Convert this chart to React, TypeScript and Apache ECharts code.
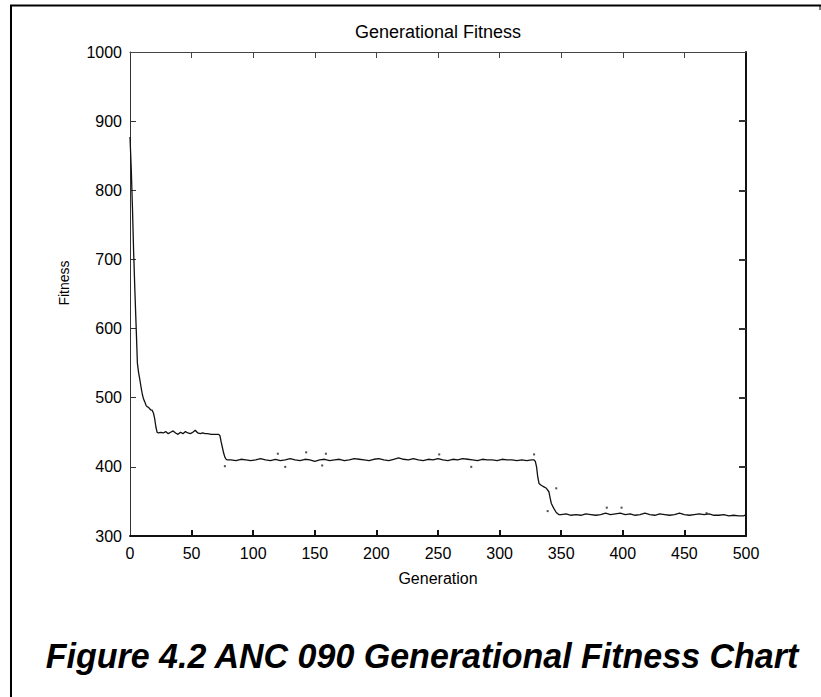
import React, { useEffect, useRef } from "react";
import * as echarts from "echarts";

const generations = [
  0, 1, 2, 3, 4, 5, 6, 7, 8, 9, 10, 11, 12, 13, 14, 15, 16, 17, 18, 19, 20, 21, 22, 23,
  25, 27, 29, 31, 33, 35, 37, 39, 41, 43, 45, 47, 49, 51, 53, 55, 57, 59, 61, 63, 66, 70, 72,
  73, 74, 75, 76, 77, 78, 79,
  82, 86, 90, 94, 98, 102, 106, 110, 114, 118, 122, 126, 130, 134, 138, 142, 146, 150, 154,
  158, 162, 166, 170, 174, 178, 182, 186, 190, 194, 198, 202, 206, 210, 214, 218, 222, 226,
  230, 234, 238, 242, 246, 250, 254, 258, 262, 266, 270, 274, 278, 282, 286, 290, 294, 298,
  302, 306, 310, 314, 318, 322, 326, 328,
  329, 330, 331, 332, 334, 336, 338, 340, 341, 342, 344, 346, 348,
  350, 354, 358, 362, 366, 370, 374, 378, 382, 386, 390, 394, 398, 402, 406, 410, 414, 418,
  422, 426, 430, 434, 438, 442, 446, 450, 454, 458, 462, 466, 470, 474, 478, 482, 486, 490,
  494, 498, 500,
];

const fitness = [
  877, 832, 774, 708, 653, 602, 550, 536, 526, 515, 505, 498, 494, 489, 487, 486, 484, 482, 482, 478, 470, 458, 450, 449,
  450, 449, 451, 448, 450, 452, 449, 447, 450, 448, 451, 449, 448, 450, 453, 449, 448, 449, 448, 448, 447, 447, 447,
  445, 436, 428, 420, 414, 411, 410,
  410, 409, 411, 410, 409, 410, 412, 410, 409, 411, 409, 410, 412, 410, 409, 411, 410, 408, 410,
  411, 409, 410, 411, 409, 410, 412, 411, 410, 409, 411, 412, 410, 409, 411, 413, 411, 410,
  412, 410, 409, 411, 410, 412, 410, 409, 411, 410, 412, 411, 410, 409, 411, 410, 410, 409,
  411, 410, 410, 409, 410, 409, 410, 410,
  408, 400, 385, 376, 373, 371, 369, 364, 355, 347, 340, 334, 331,
  331, 332, 330, 331, 330, 332, 331, 330, 331, 333, 331, 332, 333, 331, 332, 330, 331, 333,
  331, 330, 332, 331, 330, 331, 333, 331, 330, 331, 332, 331, 332, 330, 330, 331, 329, 330,
  329, 329, 331,
];

const outlierGenerations = [77, 120, 126, 143, 156, 159, 251, 277, 328, 339, 346, 387, 399, 468];
const outlierFitness = [401, 419, 400, 421, 402, 419, 418, 400, 418, 336, 369, 341, 341, 333];

const xTicks = ["0", "50", "100", "150", "200", "250", "300", "350", "400", "450", "500"];
const yTicks = ["300", "400", "500", "600", "700", "800", "900", "1000"];

const xInnerTicks = [50, 100, 150, 200, 250, 300, 350, 400, 450];
const yInnerTicks = [400, 500, 600, 700, 800, 900];

const FONT = "'Liberation Sans', Arial, sans-serif";

export default function App() {
  const ref = useRef<HTMLDivElement>(null);

  useEffect(() => {
    if (!ref.current) return;
    const chart = echarts.init(ref.current, undefined, { renderer: "svg" });
    const lineData = generations.map((g, i) => [g, fitness[i]]);
    const dotData = outlierGenerations.map((g, i) => [g, outlierFitness[i]]);

    const tickLabel = {
      color: "#000",
      fontFamily: FONT,
      fontSize: 16,
    };

    chart.setOption({
      animation: false,
      backgroundColor: "#fff",
      grid: { left: 130, top: 52, right: 75, bottom: 161, containLabel: false },
      xAxis: [
        {
          type: "value",
          min: 0,
          max: 500,
          interval: 50,
          position: "bottom",
          axisLine: { show: true, onZero: false, lineStyle: { color: "#111", width: 2 } },
          axisTick: {
            show: true,
            inside: true,
            length: 6,
            customValues: xInnerTicks,
            lineStyle: { color: "#111", width: 2 },
          },
          axisLabel: {
            ...tickLabel,
            margin: 9,
            formatter: (v: number) => xTicks[Math.round(v / 50)] ?? "",
          },
          splitLine: { show: false },
        },
        {
          type: "value",
          min: 0,
          max: 500,
          interval: 50,
          position: "top",
          axisLine: { show: true, onZero: false, lineStyle: { color: "#444", width: 1 } },
          axisTick: {
            show: true,
            inside: true,
            length: 6,
            customValues: xInnerTicks,
            lineStyle: { color: "#444", width: 1 },
          },
          axisLabel: { show: false },
          splitLine: { show: false },
        },
      ],
      yAxis: [
        {
          type: "value",
          min: 300,
          max: 1000,
          interval: 100,
          position: "left",
          axisLine: { show: true, onZero: false, lineStyle: { color: "#333", width: 1 } },
          axisTick: {
            show: true,
            inside: true,
            length: 6,
            customValues: yInnerTicks,
            lineStyle: { color: "#333", width: 1 },
          },
          axisLabel: {
            ...tickLabel,
            margin: 8,
            formatter: (v: number) => yTicks[Math.round((v - 300) / 100)] ?? "",
          },
          splitLine: { show: false },
        },
        {
          type: "value",
          min: 300,
          max: 1000,
          interval: 100,
          position: "right",
          axisLine: { show: true, onZero: false, lineStyle: { color: "#111", width: 2 } },
          axisTick: {
            show: true,
            inside: true,
            length: 7,
            customValues: yInnerTicks,
            lineStyle: { color: "#333", width: 2 },
          },
          axisLabel: { show: false },
          splitLine: { show: false },
        },
      ],
      series: [
        {
          type: "line",
          xAxisIndex: 0,
          yAxisIndex: 0,
          data: lineData,
          showSymbol: false,
          symbol: "none",
          lineStyle: { color: "#111", width: 1.3 },
          silent: true,
        },
        {
          type: "scatter",
          xAxisIndex: 0,
          yAxisIndex: 0,
          data: dotData,
          symbol: "rect",
          symbolSize: 2,
          itemStyle: { color: "#222" },
          silent: true,
        },
      ],
      graphic: [
        {
          type: "line",
          shape: { x1: 11, y1: 5, x2: 11, y2: 697 },
          style: { stroke: "#000", lineWidth: 2 },
        },
        {
          type: "line",
          shape: { x1: 10, y1: 5.5, x2: 821, y2: 5.5 },
          style: { stroke: "#000", lineWidth: 2 },
        },
        {
          type: "line",
          shape: { x1: 820, y1: 5, x2: 820, y2: 10 },
          style: { stroke: "#000", lineWidth: 1 },
        },
        {
          type: "text",
          x: 438,
          y: 32,
          style: {
            text: "Generational Fitness",
            fontFamily: FONT,
            fontSize: 18,
            fill: "#000",
            textAlign: "center",
            textVerticalAlign: "middle",
          },
        },
        {
          type: "text",
          x: 438,
          y: 578,
          style: {
            text: "Generation",
            fontFamily: FONT,
            fontSize: 16,
            fill: "#000",
            textAlign: "center",
            textVerticalAlign: "middle",
          },
        },
        {
          type: "text",
          x: 64,
          y: 283,
          rotation: Math.PI / 2,
          style: {
            text: "Fitness",
            fontFamily: FONT,
            fontSize: 14,
            fill: "#000",
            textAlign: "center",
            textVerticalAlign: "middle",
          },
        },
        {
          type: "text",
          x: 422,
          y: 655,
          scaleY: 1.05,
          style: {
            text: "Figure 4.2 ANC 090 Generational Fitness Chart",
            fontFamily: FONT,
            fontSize: 34,
            fontWeight: "bold",
            fontStyle: "italic",
            fill: "#000",
            textAlign: "center",
            textVerticalAlign: "middle",
          },
        },
      ],
    });

    return () => chart.dispose();
  }, []);

  return (
    <div
      ref={ref}
      style={{ position: "fixed", left: 0, top: 0, width: 821, height: 697, background: "#fff" }}
    />
  );
}
